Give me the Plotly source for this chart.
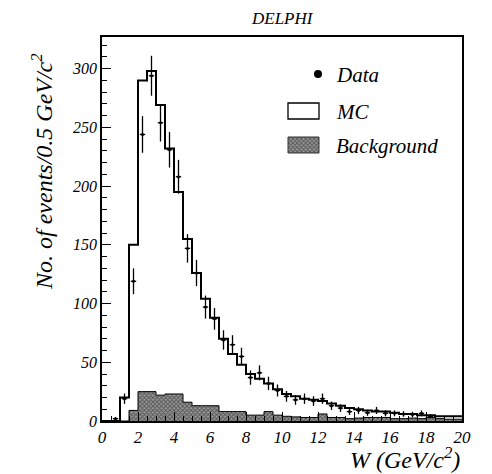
import plotly.graph_objects as go

# ---------------- data ----------------
bin_edges_lo = [0.0, 0.5, 1.0, 1.5, 2.0, 2.5, 3.0, 3.5, 4.0, 4.5, 5.0, 5.5, 6.0, 6.5, 7.0, 7.5,
                8.0, 8.5, 9.0, 9.5, 10.0, 10.5, 11.0, 11.5, 12.0, 12.5, 13.0, 13.5, 14.0, 14.5,
                15.0, 15.5, 16.0, 16.5, 17.0, 17.5, 18.0, 18.5, 19.0, 19.5]
mc_counts = [0, 0, 20, 150, 290, 298, 269, 232, 195, 155, 126, 104, 88, 70, 57, 48,
             40, 36, 32, 27, 23, 21, 19, 18, 17, 15, 13, 11, 10, 9,
             8, 8, 7, 6, 6, 5, 5, 4, 4, 4]
bkg_counts = [0, 0, 0, 9, 25, 25, 22, 23, 23, 16, 13, 13, 13, 8, 8, 8,
              5, 5, 8, 5, 4, 3.5, 3, 3, 6, 3, 3, 2, 2.5, 3,
              3, 3, 2, 2, 2.5, 2, 3, 2, 1.5, 1.5]
x_max = 20.0

data_w = [0.75, 1.25, 1.75, 2.25, 2.75, 3.25, 3.75, 4.25, 4.75, 5.25, 5.75, 6.25, 6.75, 7.25,
          7.75, 8.25, 8.75, 9.25, 9.75, 10.25, 10.75, 11.25, 11.75, 12.25, 12.75, 13.25,
          13.75, 14.25, 14.75, 15.25, 15.75, 16.25, 16.75, 17.25, 17.75, 18.25]
data_n = [2, 19, 119, 244, 294, 254, 231, 208, 147, 126, 97, 87, 69, 65,
          55, 37, 41, 32, 26, 21, 18, 19, 17, 19, 13, 11,
          8, 9, 7, 9, 6.5, 6.5, 6, 5.5, 6.5, 4]
data_err = [1.4, 4.4, 11, 15.6, 17, 16, 15.2, 14.4, 12.1, 11.2, 9.8, 9.3, 8.3, 8.1,
            7.4, 6.1, 6.4, 5.7, 5.1, 4.6, 4.2, 4.4, 4.1, 4.4, 3.6, 3.3,
            2.8, 3, 2.6, 3, 2.5, 2.5, 2.4, 2.3, 2.5, 2]

x_ticks = [0, 2, 4, 6, 8, 10, 12, 14, 16, 18, 20]
y_ticks = [0, 50, 100, 150, 200, 250, 300]

FONT = "serif"
HATCH = dict(shape="x", size=3, solidity=0.55, fgcolor="#111111", bgcolor="#9a9a9a")

mc_x = bin_edges_lo + [x_max]
mc_y = mc_counts + [mc_counts[-1]]
bkg_y = bkg_counts + [bkg_counts[-1]]

fig = go.Figure()

# background (hatched)
fig.add_trace(go.Scatter(
    x=mc_x, y=bkg_y, mode="lines", line=dict(shape="hv", color="black", width=1),
    fill="tozeroy", fillcolor="#777777", fillpattern=HATCH,
    showlegend=False, hoverinfo="skip"))

# MC histogram
fig.add_trace(go.Scatter(
    x=mc_x, y=mc_y, mode="lines", line=dict(shape="hv", color="black", width=2),
    showlegend=False, hoverinfo="skip"))

# data points
fig.add_trace(go.Scatter(
    x=data_w, y=data_n, mode="markers",
    marker=dict(color="black", size=3),
    error_y=dict(type="data", array=data_err, color="black", thickness=1.3, width=0),
    error_x=dict(type="constant", value=0.15, color="black", thickness=1.3, width=0),
    showlegend=False, hoverinfo="skip"))

# ---- manual legend in an overlay (0..1) coordinate system ----
px = lambda x: (x - 102) / 360.0
py = lambda y: (421 - y) / 384.0
fig.add_trace(go.Scatter(x=[px(318)], y=[py(74)], mode="markers",
                         marker=dict(color="black", size=8),
                         xaxis="x2", yaxis="y2", showlegend=False, hoverinfo="skip"))
fig.add_trace(go.Scatter(
    x=[px(288), px(319), px(319), px(288), px(288)],
    y=[py(153), py(153), py(137), py(137), py(153)],
    mode="lines", line=dict(color="#333", width=1), fill="toself", fillcolor="#777777",
    fillpattern=HATCH,
    xaxis="x2", yaxis="y2", showlegend=False, hoverinfo="skip"))
fig.add_shape(type="rect", xref="paper", yref="paper",
              x0=px(288), x1=px(319), y0=py(119), y1=py(103),
              line=dict(color="black", width=1.3), fillcolor="white")

for label, yy in [("Data", 75), ("MC", 112), ("Background", 146)]:
    fig.add_annotation(x=px(334), y=py(yy), xref="paper", yref="paper", text=label,
                       showarrow=False, xanchor="left", yanchor="middle",
                       font=dict(family=FONT, size=21, color="black", style="italic"))

fig.add_annotation(x=0.5, y=1.0, xref="paper", yref="paper", text="DELPHI",
                   showarrow=False, xanchor="center", yanchor="bottom", yshift=7,
                   font=dict(family=FONT, size=17, color="black", style="italic"))

# axis titles (positioned like the reference)
fig.add_annotation(x=1.0, y=py(458), xref="paper", yref="paper",
                   text="W (GeV/c<sup>2</sup>)", showarrow=False,
                   xanchor="right", yanchor="middle",
                   font=dict(family=FONT, size=24, color="black", style="italic"))
fig.add_annotation(x=px(42), y=py(172), xref="paper", yref="paper",
                   text="No. of events/0.5 GeV/c<sup>2</sup>", showarrow=False,
                   textangle=-90, xanchor="center", yanchor="middle",
                   font=dict(family=FONT, size=24, color="black", style="italic"))

fig.update_layout(
    width=492, height=474,
    margin=dict(l=102, r=30, t=37, b=53),
    paper_bgcolor="white", plot_bgcolor="white",
    showlegend=False,
    font=dict(family=FONT),
    xaxis=dict(range=[0, 20], tickvals=x_ticks, ticks="inside", ticklen=9, tickwidth=1,
               tickcolor="black", showline=True, linecolor="black", linewidth=1.5, mirror=True,
               showgrid=False, zeroline=False,
               minor=dict(dtick=0.5, ticks="inside", ticklen=5, tickcolor="black", showgrid=False),
               tickfont=dict(family=FONT, size=17, color="black", style="italic")),
    yaxis=dict(range=[0, 327], tickvals=y_ticks, ticks="inside", ticklen=9, tickwidth=1,
               tickcolor="black", showline=True, linecolor="black", linewidth=1.5, mirror=True,
               showgrid=False, zeroline=False,
               minor=dict(dtick=10, ticks="inside", ticklen=5, tickcolor="black", showgrid=False),
               tickfont=dict(family=FONT, size=16, color="black", style="italic")),
    xaxis2=dict(range=[0, 1], overlaying="x", visible=False),
    yaxis2=dict(range=[0, 1], overlaying="y", visible=False),
)

fig.write_html("out.html")
